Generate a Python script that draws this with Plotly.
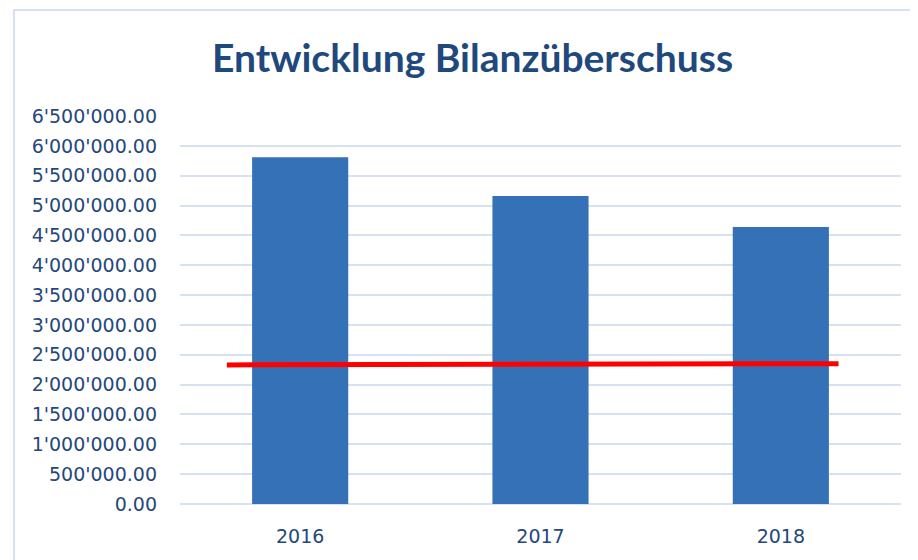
import plotly.graph_objects as go

years = ["2016", "2017", "2018"]
surplus = [5810000, 5160000, 4640000]
threshold_x = [-0.305, 2.24]
threshold_y = [2330000, 2350000]
tick_vals = [i * 500000 for i in range(14)]
tick_text = ["{:,.2f}".format(v).replace(",", "'") for v in tick_vals]

text_color = "#24487A"
grid_color = "#D6E2F2"

fig = go.Figure()
fig.add_trace(go.Bar(
    x=list(range(len(years))), y=surplus, width=0.40,
    marker=dict(color="#3571B7", line=dict(width=0)),
    showlegend=False, hoverinfo="y",
))
fig.add_trace(go.Scatter(
    x=threshold_x, y=threshold_y, mode="lines",
    line=dict(color="#FF0000", width=5), showlegend=False,
))

fig.update_layout(
    width=918, height=560,
    margin=dict(l=172, r=25, t=108, b=64),
    paper_bgcolor="white", plot_bgcolor="white",
    title=dict(text="<b>Entwicklung Bilanzüberschuss</b>", x=0.506, xanchor="center",
               y=0.9107, yanchor="middle",
               font=dict(family="Lato", size=39, color="#1F497D")),
    xaxis=dict(range=[-0.5, 2.5], tickvals=list(range(len(years))), ticktext=years,
               showgrid=False, zeroline=False, showline=False,
               tickfont=dict(family="DejaVu Sans", size=19, color=text_color), ticks="",
               ticklabelstandoff=19),
    yaxis=dict(range=[0, 6500000], tickvals=tick_vals, ticktext=tick_text,
               showgrid=True, gridcolor=grid_color, gridwidth=2,
               zeroline=True, zerolinecolor=grid_color, zerolinewidth=2,
               showline=False, ticks="",
               tickfont=dict(family="DejaVu Sans", size=19, color=text_color),
               ticklabelstandoff=22),
    shapes=[dict(type="rect", xref="paper", yref="paper",
                 x0=-0.2302, x1=1.1, y0=-0.3, y1=1.273,
                 line=dict(color="#D6E2F2", width=2), fillcolor="rgba(0,0,0,0)", layer="below")],
)
fig.write_html("out.html")
